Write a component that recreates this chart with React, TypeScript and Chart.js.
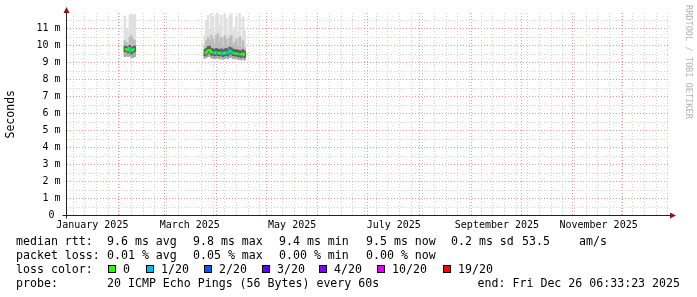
import React, { useEffect, useRef } from 'react';
import { Chart, registerables } from 'chart.js';

Chart.register(...registerables);

// ---- data (days since 2025-01-01) ----
const cluster1Days = [35, 36, 37, 38, 39, 40, 41];
const cluster1Median = [9.82, 9.8, 9.72, 9.85, 9.68, 9.78, 9.8];
const cluster1Loss = [0, 0, 0, 0, 1, 0, 0];
const cluster1Max = [11.75, 11.0, 10.9, 11.8, 11.85, 11.8, 11.85];
const cluster1P90 = [10.3, 10.2, 10.1, 10.5, 10.6, 10.4, 10.3];
const cluster1Q3 = [9.98, 9.95, 9.9, 10.02, 9.9, 9.95, 9.98];
const cluster1Q1 = [9.65, 9.65, 9.58, 9.7, 9.52, 9.6, 9.65];
const cluster1Min = [9.35, 9.4, 9.35, 9.4, 9.3, 9.3, 9.35];

const cluster2Days = [83, 84, 85, 86, 87, 88, 89, 90, 91, 92, 93, 94, 95, 96, 97, 98, 99, 100, 101, 102, 103, 104, 105, 106, 107];
const cluster2Median = [9.55, 9.62, 9.72, 9.75, 9.62, 9.6, 9.55, 9.62, 9.58, 9.55, 9.6, 9.52, 9.58, 9.62, 9.55, 9.72, 9.65, 9.58, 9.55, 9.55, 9.52, 9.5, 9.48, 9.55, 9.45];
const cluster2Loss = [0, 0, 0, 0, 0, 0, 1, 0, 1, 0, 0, 1, 0, 0, 1, 1, 0, 1, 0, 0, 0, 1, 0, 0, 0];
const cluster2Max = [10.6, 11.5, 11.8, 11.0, 11.9, 11.7, 10.8, 11.8, 11.9, 11.2, 11.8, 10.5, 11.9, 11.6, 10.7, 11.8, 11.9, 10.9, 11.1, 11.7, 10.8, 11.9, 10.6, 11.7, 10.9];
const cluster2P90 = [10.0, 10.3, 10.5, 10.3, 10.6, 10.4, 10.1, 10.6, 10.7, 10.2, 10.5, 10.0, 10.6, 10.4, 10.0, 10.5, 10.6, 10.1, 10.2, 10.4, 10.0, 10.5, 9.95, 10.3, 9.9];
const cluster2Q3 = [9.78, 9.85, 9.95, 9.98, 9.85, 9.82, 9.78, 9.85, 9.8, 9.78, 9.82, 9.75, 9.8, 9.85, 9.78, 9.92, 9.88, 9.8, 9.78, 9.78, 9.75, 9.72, 9.7, 9.78, 9.68];
const cluster2Q1 = [9.4, 9.45, 9.55, 9.58, 9.45, 9.44, 9.4, 9.45, 9.42, 9.4, 9.44, 9.36, 9.42, 9.45, 9.4, 9.52, 9.5, 9.42, 9.4, 9.4, 9.36, 9.34, 9.32, 9.4, 9.3];
const cluster2Min = [9.25, 9.3, 9.35, 9.38, 9.28, 9.26, 9.22, 9.28, 9.25, 9.22, 9.26, 9.2, 9.24, 9.28, 9.22, 9.3, 9.32, 9.24, 9.22, 9.22, 9.2, 9.18, 9.16, 9.22, 9.15];

// ---- axis ticks / labels ----
const monthStartDays = [0, 31, 59, 90, 120, 151, 181, 212, 243, 273, 304, 334];
const monthLabelDays = [15.5, 74, 135.5, 196.5, 258.5, 319.5];
const monthLabels = ['January 2025', 'March 2025', 'May 2025', 'July 2025', 'September 2025', 'November 2025'];
const yTickValues = [0, 1, 2, 3, 4, 5, 6, 7, 8, 9, 10, 11];
const yTickLabels = ['0 ', '1 m', '2 m', '3 m', '4 m', '5 m', '6 m', '7 m', '8 m', '9 m', '10 m', '11 m'];

// ---- legend ----
const lossColors = ['#26ff00', '#00b8ff', '#0059ff', '#5e00ff', '#7e00ff', '#dd00ff', '#ff0000'];
const lossLabels = ['0', '1/20', '2/20', '3/20', '4/20', '10/20', '19/20'];
const rttStats = ['9.6 ms avg', '9.8 ms max', '9.4 ms min', '9.5 ms now', '0.2 ms sd', '53.5', 'am/s'];
const lossStats = ['0.01 % avg', '0.05 % max', '0.00 % min', '0.00 % now'];
const probeText = '20 ICMP Echo Pings (56 Bytes) every 60s';
const endText = 'end: Fri Dec 26 06:33:23 2025';

const X_MIN = 0;
const X_MAX = 361.8;
const Y_MAX = 11.93;
const MONO = "'DejaVu Sans Mono', monospace";

const MINOR = '#d2d2d2';
const MAJOR = '#eb9a9a';

function buildXTicks() {
  const set = new Map<number, string>();
  for (let d = 4; d < X_MAX; d += 7) set.set(d, 'minor');
  monthStartDays.forEach((d) => set.set(d, 'major'));
  monthLabelDays.forEach((d) => set.set(d, 'label'));
  return Array.from(set.entries())
    .sort((a, b) => a[0] - b[0])
    .map(([value, kind]) => ({ value, kind }));
}

const decorPlugin = {
  id: 'decor',
  afterDraw(chart: any) {
    const ctx = chart.ctx as CanvasRenderingContext2D;
    const a = chart.chartArea;
    const xAxisY = Math.round(a.bottom - 0.5) + 0.5;
    const yAxisX = Math.round(a.left - 0.5) + 0.5;
    ctx.save();
    ctx.strokeStyle = '#222';
    ctx.lineWidth = 1;
    ctx.setLineDash([]);
    ctx.beginPath();
    ctx.moveTo(a.left - 4, xAxisY);
    ctx.lineTo(a.right + 1, xAxisY);
    ctx.moveTo(yAxisX, a.bottom + 3);
    ctx.lineTo(yAxisX, a.top - 1);
    ctx.stroke();
    ctx.fillStyle = '#8a1414';
    ctx.beginPath();
    ctx.moveTo(a.right + 7, xAxisY);
    ctx.lineTo(a.right + 1, xAxisY - 3);
    ctx.lineTo(a.right + 1, xAxisY + 3);
    ctx.closePath();
    ctx.fill();
    ctx.beginPath();
    ctx.moveTo(yAxisX, a.top - 6);
    ctx.lineTo(yAxisX - 3, a.top);
    ctx.lineTo(yAxisX + 3, a.top);
    ctx.closePath();
    ctx.fill();

    ctx.save();
    ctx.translate(688, 5);
    ctx.rotate(Math.PI / 2);
    ctx.font = `8.6px ${MONO}`;
    ctx.fillStyle = '#b4b4b4';
    ctx.textBaseline = 'middle';
    ctx.textAlign = 'left';
    ctx.fillText('RRDTOOL / TOBI OETIKER', 0, 0);
    ctx.restore();

    ctx.font = `11.6px ${MONO}`;
    ctx.fillStyle = '#000';
    ctx.textBaseline = 'alphabetic';
    ctx.textAlign = 'left';
    const statX = [107, 193, 279, 366, 451, 522, 579];
    ctx.fillText('median rtt:', 16, 245);
    rttStats.forEach((t, i) => ctx.fillText(t, statX[i], 245));
    ctx.fillText('packet loss:', 16, 259);
    lossStats.forEach((t, i) => ctx.fillText(t, statX[i], 259));
    ctx.fillText('loss color:', 16, 273);
    const boxX = [108, 146, 204, 262, 319, 377, 443];
    lossColors.forEach((c, i) => {
      ctx.fillStyle = c;
      ctx.fillRect(boxX[i], 265, 8, 8);
      ctx.strokeStyle = '#000';
      ctx.strokeRect(boxX[i] + 0.5, 265.5, 7, 7);
      ctx.fillStyle = '#000';
      ctx.fillText(lossLabels[i], boxX[i] + 15, 273);
    });
    ctx.fillText('probe:', 16, 287);
    ctx.fillText(probeText, 107, 287);
    ctx.textAlign = 'right';
    ctx.fillText(endText, 680, 287);
    ctx.restore();
  },
};

export default function App() {
  const ref = useRef<HTMLCanvasElement | null>(null);

  useEffect(() => {
    const days = [...cluster1Days, ...cluster2Days];
    const mins = [...cluster1Min, ...cluster2Min];
    const q1s = [...cluster1Q1, ...cluster2Q1];
    const q3s = [...cluster1Q3, ...cluster2Q3];
    const p90s = [...cluster1P90, ...cluster2P90];
    const maxs = [...cluster1Max, ...cluster2Max];
    const band = (lo: number[], hi: number[]) => days.map((d, i) => ({ x: d, y: [lo[i], hi[i]] }));

    const medianData: any[] = [
      ...cluster1Days.map((d, i) => ({ x: d, y: cluster1Median[i], l: cluster1Loss[i] })),
      { x: 60, y: null, l: 0 },
      ...cluster2Days.map((d, i) => ({ x: d, y: cluster2Median[i], l: cluster2Loss[i] })),
    ];

    const xTicks = buildXTicks();
    const kindOf = (v: number) => {
      const t = xTicks.find((k) => Math.abs(k.value - v) < 1e-6);
      return t ? t.kind : 'minor';
    };

    const barCommon = {
      type: 'bar' as const,
      grouped: false,
      barThickness: 1.8,
      borderWidth: 0,
    };

    const chart = new Chart(ref.current as HTMLCanvasElement, {
      type: 'bar',
      data: {
        datasets: [
          {
            type: 'line',
            data: medianData,
            borderWidth: 2,
            pointRadius: 0,
            stepped: 'middle',
            spanGaps: false,
            order: 0,
            borderColor: lossColors[0],
            segment: {
              borderColor: (c: any) => {
                const p = c.chart.data.datasets[c.datasetIndex].data[c.p1DataIndex];
                return lossColors[p ? p.l : 0];
              },
            },
          } as any,
          { ...barCommon, data: band(p90s, maxs), backgroundColor: '#e0e0e0', order: 4 } as any,
          { ...barCommon, data: band(q3s, p90s), backgroundColor: '#bcbcbc', order: 3 } as any,
          { ...barCommon, data: band(mins, q1s), backgroundColor: '#ababab', order: 3 } as any,
          { ...barCommon, data: band(q1s, q3s), backgroundColor: '#5e5e5e', order: 2 } as any,
        ],
      },
      plugins: [decorPlugin],
      options: {
        animation: false,
        responsive: false,
        devicePixelRatio: 1,
        layout: { padding: { left: 0, top: 13, right: 28, bottom: 61.5 } },
        plugins: { legend: { display: false }, tooltip: { enabled: false } },
        scales: {
          x: {
            type: 'linear',
            min: X_MIN,
            max: X_MAX,
            offset: false,
            afterBuildTicks: (s: any) => {
              s.ticks = xTicks.map((t) => ({ value: t.value }));
            },
            afterFit: (s: any) => {
              s.height = 20;
            },
            ticks: {
              autoSkip: false,
              maxRotation: 0,
              minRotation: 0,
              padding: 4,
              color: '#000',
              font: { family: MONO, size: 10 },
              callback: (v: any) => {
                const i = monthLabelDays.indexOf(Number(v));
                return i >= 0 ? monthLabels[i] : '';
              },
            },
            grid: {
              offset: false,
              drawTicks: false,
              lineWidth: 1,
              color: (c: any) => {
                const k = kindOf(c.tick ? c.tick.value : -1);
                if (k === 'label') return 'rgba(0,0,0,0)';
                return k === 'major' ? MAJOR : MINOR;
              },
            },
            border: { display: false, dash: [1, 2] },
          } as any,
          y: {
            min: 0,
            max: Y_MAX,
            afterBuildTicks: (s: any) => {
              const t: any[] = [];
              for (let v = 0; v <= 11.5 + 1e-6; v += 0.5) t.push({ value: Math.round(v * 2) / 2 });
              s.ticks = t;
            },
            afterFit: (s: any) => {
              s.width = 66.5;
            },
            ticks: {
              autoSkip: false,
              padding: 6,
              color: '#000',
              font: { family: MONO, size: 10 },
              callback: (v: any) => {
                const i = yTickValues.indexOf(Number(v));
                return i >= 0 ? yTickLabels[i] : '';
              },
            },
            grid: {
              drawTicks: false,
              lineWidth: 1,
              color: (c: any) => (c.tick && Number.isInteger(c.tick.value) ? MAJOR : MINOR),
            },
            border: { display: false, dash: [1, 2] },
            title: {
              display: true,
              text: 'Seconds',
              color: '#000',
              font: { family: MONO, size: 11.5 },
              padding: { top: 4, bottom: 0 },
            },
          } as any,
        },
      },
    });
    return () => chart.destroy();
  }, []);

  return (
    <div style={{ position: 'fixed', left: 0, top: 0, width: 697, height: 297, background: '#fff' }}>
      <canvas ref={ref} width={697} height={297} style={{ display: 'block', width: 697, height: 297 }} />
    </div>
  );
}
